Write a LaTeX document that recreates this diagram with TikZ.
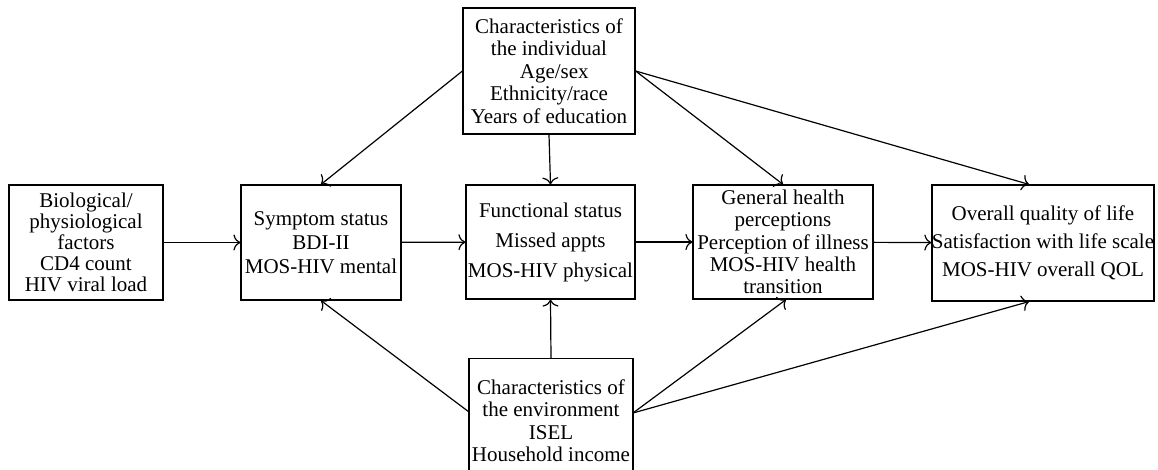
\documentclass[tikz,border=0pt]{standalone}
\usepackage{fontspec}
\setmainfont{Liberation Serif}
\usetikzlibrary{arrows.meta}

\begin{document}
\begin{tikzpicture}[x=0.5pt,y=-0.5pt,
    >={Computer Modern Rightarrow[length=3.5pt,width=8pt]},
    box/.style={draw,line width=0.6pt,inner sep=0pt,align=center,
      font=\fontsize{10.5}{11.2}\selectfont},
    every path/.style={line width=0.6pt}]
      \useasboundingbox (0,0) rectangle (1158,470);
      \node[box,minimum width=77pt,minimum height=57.5pt,
        font=\fontsize{10.5}{10.5}\selectfont] (bio) at (86,242.5)
        {Biological/\\physiological\\factors\\CD4 count\\HIV viral load};
      \node[box,minimum width=80pt,minimum height=57.5pt] (symp) at (321,242.5)
        {Symptom status\\[0.8pt]BDI-II\\[0.8pt]MOS-HIV mental};
      \node[box,minimum width=84.5pt,minimum height=57pt] (func) at (550.5,242)
        {Functional status\\[3.8pt]Missed appts\\[3.8pt]MOS-HIV physical};
      \node[box,minimum width=90pt,minimum height=57pt] (gen) at (783,242)
        {General health\\perceptions\\Perception of illness\\MOS-HIV health\\transition};
      \node[box,minimum width=110pt,minimum height=58pt] (qol) at (1043,243)
        {Overall quality of life\\[2.8pt]Satisfaction with life scale\\[2.8pt]MOS-HIV overall QOL};
      \node[box,minimum width=86pt,minimum height=63pt] (indiv) at (549,71)
        {Characteristics of\\the individual\\\hspace*{0.5em}Age/sex\\Ethnicity/race\hspace*{0.8em}\\Years of education};
      \node[box,minimum width=82pt,minimum height=62pt,anchor=north] (env) at (551,358)
        {Characteristics of\\the environment\\ISEL\\Household income};

      \draw[->] (bio) -- (symp);
      \draw[->] (symp) -- (func);
      \draw[->] (func) -- (gen);
      \draw[->] (gen) -- (qol);
      %% characteristics of the individual
      \draw[->] (indiv.west) -- (symp.north);
      \draw[->] (indiv.south) -- (func.north);
      \draw[->] (indiv.east) -- (gen.north);
      \draw[->] (indiv.east) -- ([xshift=-7pt]qol.north);
      %% characteristics of the environment
      \coordinate (envl) at (469,412);
      \coordinate (envr) at (633,413);
      \draw[->] (envl) -- (symp.south);
      \draw[->] (env.north) -- (func.south);
      \draw[->] (envr) -- ([xshift=1.5pt]gen.south);
      \draw[->] (envr) -- ([xshift=-7pt]qol.south);
    \end{tikzpicture}
\end{document}
